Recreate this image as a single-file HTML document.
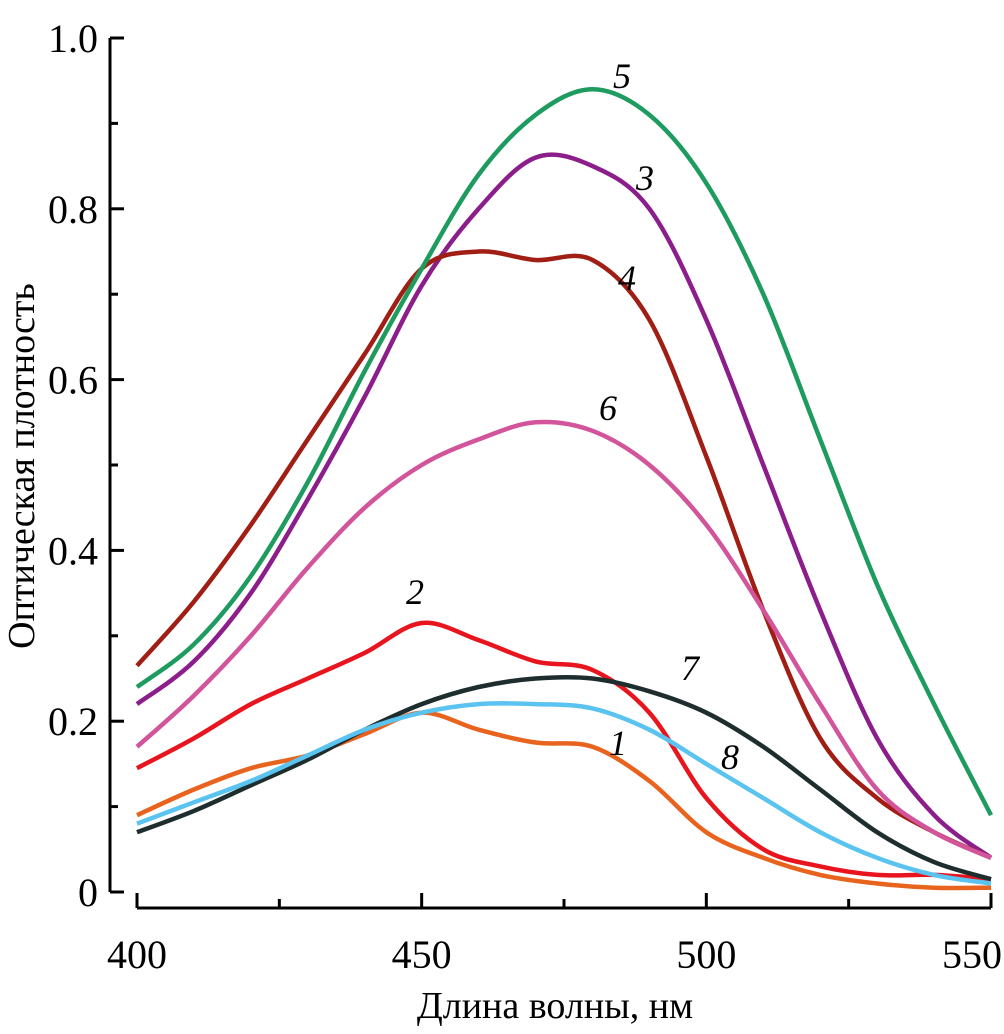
<!DOCTYPE html>
<html><head><meta charset="utf-8">
<style>
html,body{margin:0;padding:0;background:#fff;}
svg{display:block;font-family:"Liberation Serif",serif;}
</style></head>
<body>
<svg id="chart" width="1004" height="1034" viewBox="0 0 1004 1034" xmlns="http://www.w3.org/2000/svg">
<g id="axes"></g>
<g id="series"></g>
<g id="labels"></g>
<text x="555" y="1018" font-size="38" text-anchor="middle">Длина волны, нм</text>
<text transform="translate(34,466) rotate(-90)" font-size="38" text-anchor="middle">Оптическая плотность</text>
</svg>
<script>
const wavelengths=[400,410,420,430,440,450,460,470,480,490,500,510,520,530,540,550];
const s1=[0.09,0.12,0.145,0.16,0.185,0.21,0.19,0.175,0.17,0.13,0.07,0.04,0.02,0.01,0.005,0.005];
const s2=[0.145,0.18,0.22,0.25,0.28,0.315,0.295,0.27,0.26,0.21,0.11,0.05,0.03,0.02,0.02,0.015];
const s3=[0.22,0.27,0.35,0.46,0.58,0.71,0.80,0.86,0.85,0.80,0.67,0.50,0.33,0.18,0.09,0.04];
const s4=[0.265,0.34,0.43,0.53,0.63,0.73,0.75,0.74,0.74,0.67,0.51,0.33,0.18,0.11,0.07,0.04];
const s5=[0.24,0.29,0.37,0.48,0.61,0.73,0.84,0.91,0.94,0.91,0.83,0.70,0.53,0.36,0.22,0.09];
const s6=[0.17,0.23,0.30,0.38,0.45,0.50,0.53,0.55,0.54,0.50,0.43,0.33,0.22,0.12,0.07,0.04];
const s7=[0.07,0.095,0.125,0.155,0.19,0.22,0.24,0.25,0.25,0.235,0.21,0.17,0.12,0.07,0.035,0.015];
const s8=[0.08,0.105,0.13,0.16,0.19,0.21,0.22,0.22,0.215,0.19,0.15,0.11,0.07,0.04,0.02,0.01];
const xTicks=[400,450,500,550];
const yTicks=[0,0.2,0.4,0.6,0.8,1.0];
const yTickLabels=["0","0.2","0.4","0.6","0.8","1.0"];
const seriesNames=["1","2","3","4","5","6","7","8"];
const NS="http://www.w3.org/2000/svg";
const X=v=>137+(v-400)*854/150;
const Y=v=>892-v*854;
function mk(tag,attrs,parent){const e=document.createElementNS(NS,tag);for(const k in attrs)e.setAttribute(k,attrs[k]);parent.appendChild(e);return e;}
const axes=document.getElementById('axes');
let l=mk('line',{x1:110,y1:38,x2:110,y2:892,stroke:'#000','stroke-width':3},axes);


l=mk('line',{x1:137,y1:908,x2:991,y2:908,stroke:'#000','stroke-width':3},axes);


for(let v=0;v<=1.0001;v+=0.1){
  const major=Math.round(v*10)%2===0;
  const t=mk('line',{x1:110,y1:Y(v),x2:major?124:118,y2:Y(v),stroke:'#000','stroke-width':3},axes);
  
  
}
yTicks.forEach((v,i)=>{
  const t=mk('text',{x:98,y:Y(v)+14,'font-size':40,'text-anchor':'end'},axes);
  t.textContent=yTickLabels[i];
  
  
});
for(let v=400;v<=550;v+=25){
  const major=v%50===0;
  const t=mk('line',{x1:X(v),y1:908,x2:X(v),y2:major?893:899,stroke:'#000','stroke-width':3},axes);
  
  
}
xTicks.forEach((v,i)=>{
  const last=i===xTicks.length-1;
  const t=mk('text',{x:last?1002:X(v),y:968,'font-size':40,'text-anchor':last?'end':'middle'},axes);
  t.textContent=v;
  
  
});
const data=[s1,s2,s3,s4,s5,s6,s7,s8];
const colors=['#e8641e','#e8141e','#8c1e8c','#a01e14','#1e9b5f','#d2559b','#1e2d2d','#5ac3f0'];
const g=document.getElementById('series');
function smooth(pts){
  let d='M'+pts[0][0].toFixed(1)+','+pts[0][1].toFixed(1);
  for(let i=0;i<pts.length-1;i++){
    const p0=pts[i-1]||pts[i],p1=pts[i],p2=pts[i+1],p3=pts[i+2]||p2;
    const c1=[p1[0]+(p2[0]-p0[0])/6,p1[1]+(p2[1]-p0[1])/6];
    const c2=[p2[0]-(p3[0]-p1[0])/6,p2[1]-(p3[1]-p1[1])/6];
    d+=' C'+c1.map(n=>n.toFixed(1)).join(',')+' '+c2.map(n=>n.toFixed(1)).join(',')+' '+p2.map(n=>n.toFixed(1)).join(',');
  }
  return d;
}
data.forEach((arr,i)=>{
  const pts=arr.map((v,j)=>[X(wavelengths[j]),Y(v)]);
  const p=mk('path',{d:smooth(pts),fill:'none',stroke:colors[i],'stroke-width':4.5,'stroke-linejoin':'round'},g);
  
  
});
const labelPos=[[618,755],[415,604],[645,190],[627,290],[622,88],[608,420],[690,680],[730,769]];
const lg=document.getElementById('labels');
labelPos.forEach((p,i)=>{
  const t=mk('text',{x:p[0],y:p[1],'font-size':36,'font-style':'italic','text-anchor':'middle'},lg);
  t.textContent=seriesNames[i];
  
  
});
</script>
</body></html>
